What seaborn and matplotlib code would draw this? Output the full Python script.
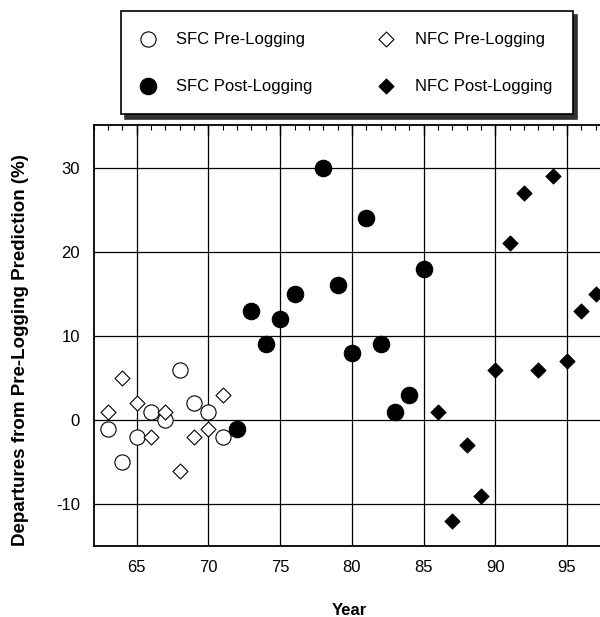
import pandas as pd
import matplotlib
matplotlib.use('Agg')
import matplotlib.pyplot as plt
from matplotlib.ticker import MultipleLocator
import seaborn as sns

sns.set_style('white')
plt.rcParams['font.family'] = ['Liberation Sans', 'DejaVu Sans']
plt.rcParams['axes.unicode_minus'] = False
plt.rcParams['text.color'] = 'black'
plt.rcParams['axes.labelcolor'] = 'black'
plt.rcParams['xtick.color'] = 'black'
plt.rcParams['ytick.color'] = 'black'

# 데이터 (연도, 편차 %)
sfc_pre_year = [63, 64, 65, 66, 67, 68, 69, 70, 71]
sfc_pre_val = [-1, -5, -2, 1, 0, 6, 2, 1, -2]

nfc_pre_year = [63, 64, 65, 66, 67, 68, 69, 70, 71]
nfc_pre_val = [1, 5, 2, -2, 1, -6, -2, -1, 3]

sfc_post_year = [72, 73, 74, 75, 76, 78, 79, 80, 81, 82, 83, 84, 85]
sfc_post_val = [-1, 13, 9, 12, 15, 30, 16, 8, 24, 9, 1, 3, 18]

nfc_post_year = [86, 87, 88, 89, 90, 91, 92, 93, 94, 95, 96, 97]
nfc_post_val = [1, -12, -3, -9, 6, 21, 27, 6, 29, 7, 13, 15]

labels = ['SFC Pre-Logging', 'SFC Post-Logging', 'NFC Pre-Logging', 'NFC Post-Logging']

fig = plt.figure(figsize=(6, 6.17), dpi=100)
ax = fig.add_axes([93.7 / 600, 0.1144, (604.9 - 93.7) / 600, 0.6823])

# 산점도
sns.scatterplot(x=sfc_pre_year, y=sfc_pre_val, marker='o', s=120, color='white',
                edgecolor='black', linewidth=0.8, ax=ax, label=labels[0], zorder=3)
sns.scatterplot(x=sfc_post_year, y=sfc_post_val, marker='o', s=140, color='black',
                edgecolor='black', linewidth=0.8, ax=ax, label=labels[1], zorder=3)
sns.scatterplot(x=nfc_pre_year, y=nfc_pre_val, marker='D', s=58, color='white',
                edgecolor='black', linewidth=0.8, ax=ax, label=labels[2], zorder=3)
sns.scatterplot(x=nfc_post_year, y=nfc_post_val, marker='D', s=58, color='black',
                edgecolor='black', linewidth=0.8, ax=ax, label=labels[3], zorder=3)

ax.set_xlim(62, 97.64)
ax.set_ylim(-15, 35)
ax.xaxis.set_minor_locator(MultipleLocator(1))
ax.yaxis.set_minor_locator(MultipleLocator(2))
ax.set_xticks([65, 70, 75, 80, 85, 90, 95])
ax.set_yticks([-10, 0, 10, 20, 30])

ax.grid(True, which='major', color='black', linewidth=0.9)
ax.set_axisbelow(True)
ax.tick_params(which='both', direction='in', top=True, right=False,
               labelsize=12, color='black', labelcolor='black')
ax.tick_params(which='major', length=7, width=1, pad=10)
ax.tick_params(which='minor', length=3.5, width=0.8)
for sp in ax.spines.values():
    sp.set_linewidth(1.3)
    sp.set_color('black')

ax.set_xlabel('Year', fontsize=12, fontweight='bold', labelpad=20)
ax.set_ylabel('Departures from Pre-Logging Prediction (%)', fontsize=13.5,
              fontweight='bold')
ax.yaxis.set_label_coords(-0.127, 0.466)

# 범례
h, l = ax.get_legend_handles_labels()
ax.legend_.remove()
leg = fig.legend(h, l, ncol=2, loc='upper left', mode='expand',
                 bbox_to_anchor=(121 / 600, 1 - 11 / 617, (573 - 121) / 600, 0),
                 fontsize=12, frameon=True, fancybox=False, edgecolor='black',
                 handlelength=0.7, handletextpad=1.35, borderpad=1.25,
                 labelspacing=1.9, borderaxespad=0,
                 shadow={'ox': 3, 'oy': -3, 'color': '#333333', 'alpha': 1})
leg.get_frame().set_linewidth(1.2)

plt.savefig('out.png', dpi=100)
